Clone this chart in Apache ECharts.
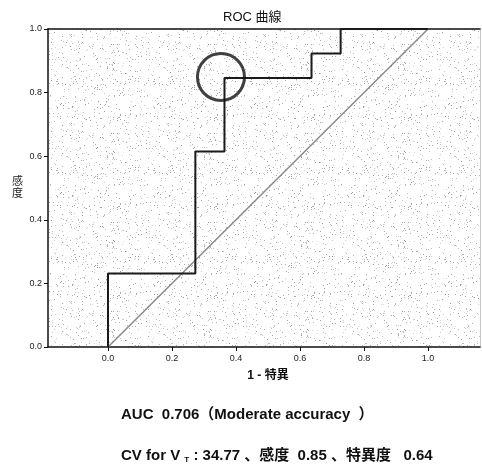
<!DOCTYPE html>
<html>
<head>
<meta charset="utf-8">
<style>
  html, body { margin: 0; padding: 0; background: #ffffff; }
  #chart { width: 482px; height: 466px; }
</style>
<script src="https://cdn.jsdelivr.net/npm/echarts@6/dist/echarts.min.js"></script>
</head>
<body>
<div id="chart"></div>
<script>
// ROC curve coordinates (1 - specificity, sensitivity)
const fpr = [0, 0, 0.273, 0.273, 0.364, 0.364, 0.636, 0.636, 0.727, 0.727, 1];
const tpr = [0, 0.231, 0.231, 0.615, 0.615, 0.846, 0.846, 0.923, 0.923, 1, 1];
// chance reference line
const refX = [0, 1];
const refY = [0, 1];
// highlighted cutoff (circled)
const cutoffX = [0.353];
const cutoffY = [0.849];
// axis ticks
const xTicks = [0, 0.2, 0.4, 0.6, 0.8, 1.0];
const yTicks = [0, 0.2, 0.4, 0.6, 0.8, 1.0];

const titleText = 'ROC 曲線';
const xName = '1 - 特異';
const yName = '感\n度';
const aucLine = 'AUC  0.706（Moderate accuracy  ）';

// speckled plot background
function stipple() {
  const c = document.createElement('canvas');
  c.width = 97; c.height = 89;
  const g = c.getContext('2d');
  g.fillStyle = '#ffffff';
  g.fillRect(0, 0, c.width, c.height);
  for (let y = 0; y < c.height; y++) {
    for (let x = 0; x < c.width; x++) {
      let h = (x * 374761393 + y * 668265263) | 0;
      h = Math.imul(h ^ (h >>> 13), 1274126177);
      h = (h ^ (h >>> 16)) >>> 0;
      const r = h / 4294967296;
      if (r < 0.055) {
        const v = 155 + Math.floor((r / 0.055) * 70);
        g.fillStyle = 'rgb(' + v + ',' + v + ',' + v + ')';
        g.fillRect(x, y, 1, 1);
      }
    }
  }
  return c;
}

const chart = echarts.init(document.getElementById('chart'), null, { renderer: 'canvas' });
const tickFont = { fontFamily: 'Liberation Sans, Arial, sans-serif', fontSize: 9, color: '#222' };
const cjk = 'Liberation Sans, Arial, "Noto Sans CJK JP", sans-serif';

chart.setOption({
  animation: false,
  backgroundColor: '#ffffff',
  title: {
    text: titleText,
    left: 218, top: 6,
    textStyle: { fontFamily: cjk, fontSize: 13, fontWeight: 'normal', color: '#111' }
  },
  grid: {
    left: 48, right: 2, top: 29, bottom: 119,
    show: true,
    backgroundColor: { image: stipple(), repeat: 'repeat' },
    borderWidth: 0
  },
  xAxis: [{
    type: 'value', min: -0.1875, max: 1.1625,
    name: xName, nameLocation: 'middle', nameGap: 23,
    nameTextStyle: { fontFamily: cjk, fontSize: 12, fontWeight: 'bold', color: '#111', padding: [0, 0, 0, 8] },
    axisLine: { show: true, onZero: false, lineStyle: { color: '#111', width: 1.5 } },
    axisTick: { show: true, length: 4, customValues: xTicks, lineStyle: { color: '#111' } },
    axisLabel: Object.assign({ customValues: xTicks, margin: 7, formatter: v => v.toFixed(1) }, tickFont),
    splitLine: { show: false }
  }, {
    type: 'value', position: 'top', min: -0.1875, max: 1.1625,
    axisLine: { show: true, onZero: false, lineStyle: { color: '#111', width: 1.5 } },
    axisTick: { show: false }, axisLabel: { show: false }, splitLine: { show: false }
  }],
  yAxis: [{
    type: 'value', min: 0, max: 1, interval: 0.2,
    name: yName, nameLocation: 'middle', nameGap: 25, nameRotate: 0,
    nameTextStyle: { fontFamily: cjk, fontSize: 11, color: '#222', lineHeight: 12 },
    axisLine: { show: true, onZero: false, lineStyle: { color: '#111', width: 1.5 } },
    axisTick: { show: true, length: 4, lineStyle: { color: '#111' } },
    axisLabel: Object.assign({ margin: 6, formatter: v => v.toFixed(1) }, tickFont),
    splitLine: { show: false }
  }, {
    type: 'value', position: 'right', min: 0, max: 1,
    axisLine: { show: true, onZero: false, lineStyle: { color: '#c8c8c8', width: 1 } },
    axisTick: { show: false }, axisLabel: { show: false }, splitLine: { show: false }
  }],
  series: [{
    type: 'line',
    data: refX.map((x, i) => [x, refY[i]]),
    showSymbol: false, silent: true,
    lineStyle: { color: '#8a8a8a', width: 1.5 },
    z: 2
  }, {
    type: 'line',
    data: fpr.map((x, i) => [x, tpr[i]]),
    showSymbol: false, silent: true,
    lineStyle: { color: '#1a1a1a', width: 2 },
    z: 3
  }, {
    type: 'scatter',
    data: cutoffX.map((x, i) => [x, cutoffY[i]]),
    symbol: 'circle', symbolSize: 47, silent: true,
    itemStyle: { color: 'rgba(0,0,0,0)', borderColor: '#111', borderWidth: 3 },
    z: 4
  }],
  graphic: [{
    type: 'text', left: 121, top: 407,
    style: {
      text: aucLine,
      font: 'bold 15px ' + cjk,
      fill: '#111'
    }
  }, {
    type: 'text', left: 121, top: 448,
    style: {
      text: '{a|CV for V }{s|T}{a| : 34.77 、感度  0.85 、特異度   0.64}',
      fill: '#111',
      rich: {
        a: { fontFamily: cjk, fontSize: 15, fontWeight: 'bold', fill: '#111' },
        s: { fontFamily: cjk, fontSize: 8, fontWeight: 'bold', fill: '#111', padding: [9, 0, 0, 0] }
      }
    }
  }]
});
</script>
</body>
</html>
